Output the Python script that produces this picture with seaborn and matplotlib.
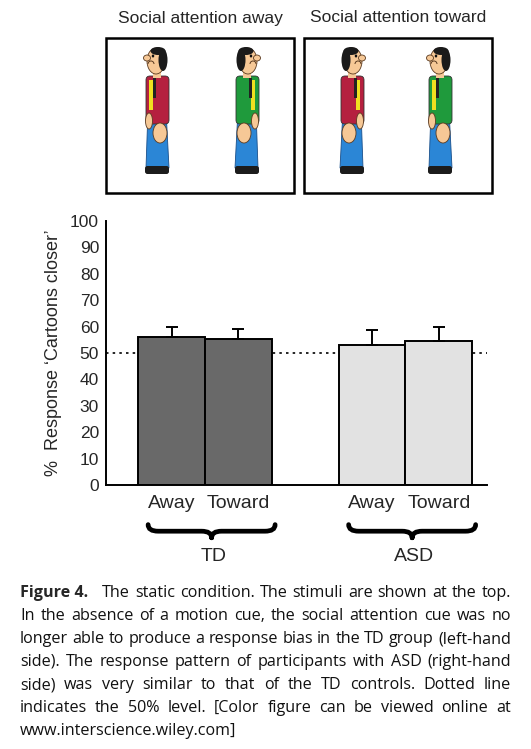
import matplotlib
matplotlib.use("Agg")
import numpy as np
import pandas as pd
import seaborn as sns
import matplotlib.pyplot as plt
from matplotlib.patches import Ellipse, Rectangle, Polygon, FancyBboxPatch, PathPatch, Arc
from matplotlib.path import Path
import matplotlib.transforms as mtransforms

# ---------------- data ----------------
groups = ["TD", "TD", "ASD", "ASD"]
conditions = ["Away", "Toward", "Away", "Toward"]
means = [56.2, 55.2, 53.0, 54.7]
errors = [3.6, 4.0, 5.8, 5.1]
group_labels = ["TD", "ASD"]
y_ticks = list(range(0, 101, 10))
reference_level = 50
panel_titles = ["Social attention away", "Social attention toward"]
y_label = "%  Response \u2018Cartoons closer\u2019"
caption_label = "Figure 4."
caption_lines = [
    "The static condition. The stimuli are shown at the top.",
    "In the absence of a motion cue, the social attention cue was no",
    "longer able to produce a response bias in the TD group (left-hand",
    "side). The response pattern of participants with ASD (right-hand",
    "side) was very similar to that of the TD controls. Dotted line",
    "indicates the 50% level. [Color figure can be viewed online at",
    "www.interscience.wiley.com]",
]

# ---------------- style ----------------
sns.set_style("white")
plt.rcParams["font.family"] = ["Liberation Sans", "DejaVu Sans"]

W, H = 531, 749
fig = plt.figure(figsize=(W / 100, H / 100), dpi=100)
fig.patch.set_facecolor("white")

overlay = fig.add_axes([0, 0, 1, 1])
overlay.set_xlim(0, W)
overlay.set_ylim(H, 0)
overlay.axis("off")

ax = fig.add_axes([106 / W, (H - 485) / H, (487 - 106) / W, (485 - 221) / H])

# ---------------- bar chart ----------------
df = pd.DataFrame({"group": groups, "condition": conditions, "mean": means, "err": errors})
df["bar"] = df["group"] + " " + df["condition"]
order = [df["bar"][0], df["bar"][1], " ", df["bar"][2], df["bar"][3]]
palette = {"TD": "#696969", "ASD": "#e2e2e2"}

sns.barplot(data=df, x="bar", y="mean", hue="group", order=order, palette=palette,
            dodge=False, width=1.0, edgecolor="black", linewidth=1.4, legend=False,
            errorbar=None, ax=ax, zorder=2)

xpos = [order.index(b) for b in df["bar"]]
ax.errorbar(xpos, df["mean"], yerr=[np.zeros(len(df)), df["err"]], fmt="none",
            ecolor="black", elinewidth=1.4, capsize=4.5, capthick=1.4, zorder=3)

ax.axhline(reference_level, color="black", lw=1.2, ls=(0, (1.5, 2.5)), zorder=1)

ax.set_ylim(0, 100)
ax.set_xlim(-0.98, 4.72)
ax.set_yticks(y_ticks)
ax.set_yticklabels([str(v) for v in y_ticks], fontsize=12.5)
ax.set_xticks(xpos)
ax.set_xticklabels(df["condition"], fontsize=14)
edges = sorted({p.get_x() for p in ax.patches if p.get_height() > 0} |
               {p.get_x() + p.get_width() for p in ax.patches if p.get_height() > 0})
ax.set_xticks(edges, minor=True)
ax.tick_params(axis="x", which="major", length=0, pad=7)
ax.tick_params(axis="x", which="minor", length=3, width=1.3, direction="out", color="black")
ax.tick_params(axis="y", length=3, width=1.3, direction="out", pad=2, color="black")
ax.set_xlabel("")
ax.set_ylabel(y_label, fontsize=13, labelpad=6)
for s in ["top", "right"]:
    ax.spines[s].set_visible(False)
for s in ["left", "bottom"]:
    ax.spines[s].set_color("black")
    ax.spines[s].set_linewidth(1.4)
ax.set_facecolor("none")

# braces and group labels
trans = mtransforms.blended_transform_factory(ax.transData, ax.transAxes)
for i, g in enumerate(group_labels):
    gx = [order.index(b) for b in df["bar"][df["group"] == g]]
    c = np.mean(gx) + 0.1
    x0, x1 = c - 0.95, c + 0.95
    yt, ym, yb = -0.150, -0.175, -0.200
    verts = [(x0, yt), (x0, ym), (x0 + 0.15, ym), (c - 0.15, ym), (c, ym), (c, yb),
             (x1, yt), (x1, ym), (x1 - 0.15, ym), (c + 0.15, ym), (c, ym), (c, yb)]
    codes = [Path.MOVETO, Path.CURVE3, Path.CURVE3, Path.LINETO, Path.CURVE3, Path.CURVE3] * 2
    ax.add_patch(PathPatch(Path(verts, codes), fc="none", ec="black", lw=3.4,
                           capstyle="round", transform=trans, clip_on=False))
    ax.text(c + 0.03, -0.272, g, transform=trans, ha="center", va="center", fontsize=14)

# ---------------- stimulus panels ----------------
for bx, title in zip([106, 304], panel_titles):
    overlay.add_patch(Rectangle((bx, 38), 188, 155, fc="white", ec="black", lw=1.8))
    overlay.text(bx + 94, 18, title, ha="center", va="center", fontsize=12.5)

skin = "#f6c896"
blue = "#2b86d6"
dark = "#5a3a20"


def person(cx, f, shirt):
    # legs
    overlay.add_patch(Polygon([(cx + f * 9, 110), (cx - f * 9, 110), (cx - f * 12, 168), (cx + f * 11, 168)],
                              closed=True, fc=blue, ec="#1a4f8a", lw=0.6))
    # shoes
    overlay.add_patch(FancyBboxPatch((cx - 12, 166), 24, 8,
                                     boxstyle="round,pad=0,rounding_size=2.5", fc="#1c1c1c", ec="none"))
    # torso (shirt)
    overlay.add_patch(FancyBboxPatch((cx - 11, 76), 23, 48,
                                     boxstyle="round,pad=0,rounding_size=4", fc=shirt, ec="#333333", lw=0.6))
    # suspender and tie strip on the front
    overlay.add_patch(Rectangle((cx + f * 6 - 2, 80), 4, 30, fc="#f0e020", ec="none"))
    overlay.add_patch(Rectangle((cx + f * 3 - 1.5, 78), 3, 20, fc="#222222", ec="none"))
    # small front hand
    overlay.add_patch(Ellipse((cx + f * 8, 121), 7, 16, fc=skin, ec=dark, lw=0.6))
    # neck
    overlay.add_patch(Rectangle((cx - 4, 69), 8, 9, fc=skin, ec="none"))
    # head
    overlay.add_patch(Ellipse((cx + f * 1, 61), 18, 26, fc=skin, ec=dark, lw=0.6))
    overlay.add_patch(Ellipse((cx - f * 6, 60), 9, 22, fc="#1a1a1a", ec="none"))
    overlay.add_patch(Ellipse((cx - f * 1, 51), 15, 8, fc="#1a1a1a", ec="none"))
    overlay.add_patch(Ellipse((cx + f * 10, 58), 7, 6, fc=skin, ec=dark, lw=0.6))
    overlay.add_patch(Ellipse((cx + f * 4, 56), 2.5, 3, fc="#111111", ec="none"))
    overlay.add_patch(Arc((cx + f * 6, 64), 6, 6, theta1=180, theta2=360, color=dark, lw=0.7))
    # big back hand
    overlay.add_patch(Ellipse((cx - f * 3, 133), 14, 20, fc=skin, ec=dark, lw=0.6))


person(157, -1, "#b5203f")
person(247, 1, "#1f9a3c")
person(352, 1, "#b5203f")
person(440, -1, "#1f9a3c")

# ---------------- caption ----------------
cap_font = ["Open Sans", "DejaVu Sans"]
L, R = 20, 511
renderer = fig.canvas.get_renderer()


def width_of(s, fs, wt="normal"):
    t = overlay.text(0, 0, s, fontsize=fs, fontweight=wt, family=cap_font)
    w = t.get_window_extent(renderer).width
    t.remove()
    return w


base_fs = 12.0
maxw = max(width_of(s, base_fs) for s in caption_lines[1:6])
fs = base_fs * (R - L - 4) / maxw

baselines = [597 + 23.0 * i for i in range(len(caption_lines))]
for i, (line, yb) in enumerate(zip(caption_lines, baselines)):
    tokens = [(w, "normal") for w in line.split(" ")]
    start = L
    if i == 0:
        t = overlay.text(L, yb, caption_label, fontsize=fs, fontweight="bold", family=cap_font,
                         va="baseline", ha="left")
        start = L + t.get_window_extent(renderer).width + 14
    texts = [overlay.text(0, yb, w, fontsize=fs, fontweight=wt, family=cap_font,
                          va="baseline", ha="left", color="#111111") for w, wt in tokens]
    widths = [t.get_window_extent(renderer).width for t in texts]
    if i < len(caption_lines) - 1 and len(texts) > 1:
        gap = (R - start - sum(widths)) / (len(texts) - 1)
    else:
        gap = width_of("a b", fs) - width_of("ab", fs)
    x = start
    for t, w in zip(texts, widths):
        t.set_x(x)
        x += w + gap

fig.savefig("out.png", dpi=100, facecolor="white")
